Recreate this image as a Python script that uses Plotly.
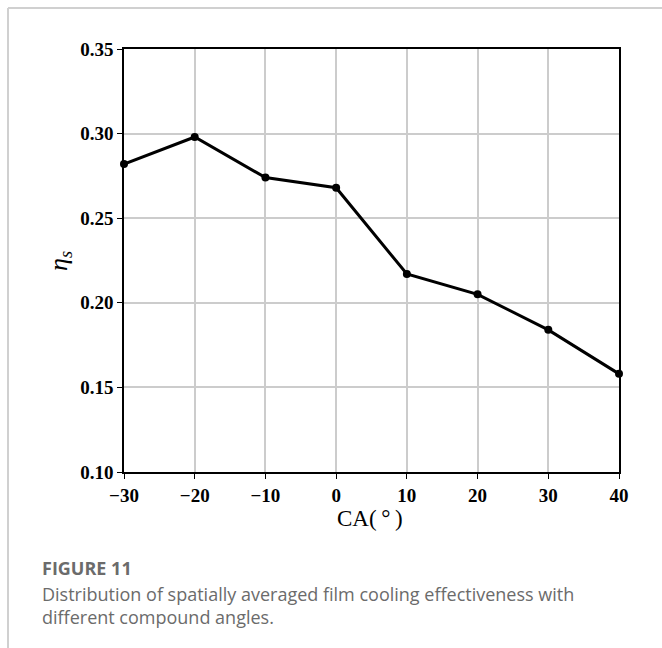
import plotly.graph_objects as go

# Data
ca_deg = [-30, -20, -10, 0, 10, 20, 30, 40]
eta_s = [0.282, 0.298, 0.274, 0.268, 0.217, 0.205, 0.184, 0.158]
x_ticks = [-30, -20, -10, 0, 10, 20, 30, 40]
x_tick_labels = ["\u221230", "\u221220", "\u221210", "0", "10", "20", "30", "40"]
y_ticks = [0.10, 0.15, 0.20, 0.25, 0.30, 0.35]
y_tick_labels = ["0.10", "0.15", "0.20", "0.25", "0.30", "0.35"]

W, H = 662, 648
L, R, T, B = 124, 619, 49, 472
pw, ph = R - L, B - T


def px(x):
    return (x - L) / pw


def py(y):
    return (B - y) / ph


fig = go.Figure()
fig.add_trace(go.Scatter(
    x=ca_deg, y=eta_s, mode="lines+markers",
    line=dict(color="black", width=3),
    marker=dict(color="black", size=8),
    cliponaxis=False, showlegend=False,
))

tickfont = dict(family="Liberation Serif", size=19, color="black", weight="bold")
fig.update_xaxes(
    range=[-30, 40], tickvals=x_ticks, ticktext=x_tick_labels,
    showgrid=True, gridcolor="#cccccc", gridwidth=1.5,
    showline=True, linecolor="black", linewidth=1.5, mirror=True,
    ticks="outside", ticklen=5, tickcolor="black", tickwidth=1.2,
    tickfont=tickfont, zeroline=False,
)
fig.update_yaxes(
    range=[0.10, 0.35], tickvals=y_ticks, ticktext=y_tick_labels,
    showgrid=True, gridcolor="#cccccc", gridwidth=1.5,
    showline=True, linecolor="black", linewidth=1.5, mirror=True,
    ticks="outside", ticklen=5, tickcolor="black", tickwidth=1.2,
    tickfont=tickfont, zeroline=False,
)

annotations = [
    dict(x=px(370), y=py(518), text="CA(\u2009\u00b0\u2009)",
         font=dict(family="Liberation Serif", size=23, color="black"),
         xanchor="center", yanchor="middle"),
    dict(x=px(60), y=py(261), text="<i>\u03b7<sub>s</sub></i>",
         textangle=-90,
         font=dict(family="Liberation Serif", size=26, color="black"),
         xanchor="center", yanchor="middle"),
    dict(x=px(40), y=py(568), text="<b>FIGURE 11</b>",
         font=dict(family="Open Sans", size=18, color="#6b6b6b"),
         xanchor="left", yanchor="middle"),
    dict(x=px(40), y=py(605),
         text="Distribution of spatially averaged film cooling effectiveness with<br>different compound angles.",
         align="left",
         font=dict(family="Open Sans", size=18, color="#6b6b6b"),
         xanchor="left", yanchor="middle"),
]
for a in annotations:
    a.update(xref="paper", yref="paper", showarrow=False)

shapes = [
    dict(type="line", xref="paper", yref="paper", x0=px(8), x1=px(662), y0=py(8), y1=py(8),
         line=dict(color="#d0d0d0", width=2)),
    dict(type="line", xref="paper", yref="paper", x0=px(8), x1=px(8), y0=py(8), y1=py(648),
         line=dict(color="#d0d0d0", width=2)),
]

fig.update_layout(
    width=W, height=H,
    margin=dict(l=L, r=W - R, t=T, b=H - B, autoexpand=False),
    paper_bgcolor="white", plot_bgcolor="white",
    annotations=annotations, shapes=shapes,
)

fig.write_html("out.html")
